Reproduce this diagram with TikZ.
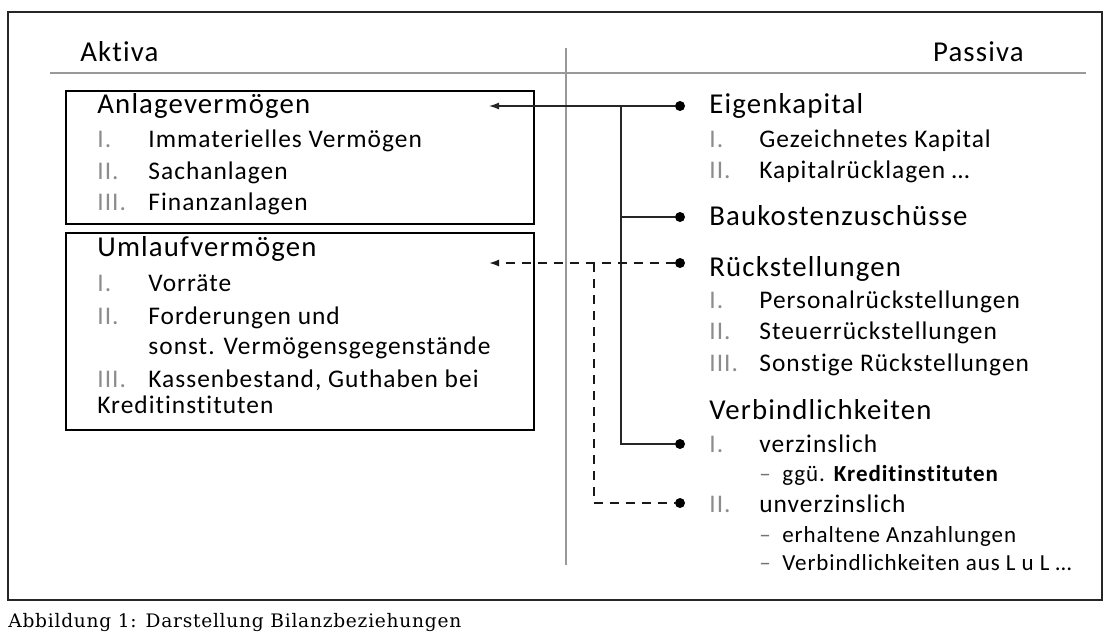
\documentclass[tikz,border=0pt]{standalone}
\usepackage{fontspec}
\newfontfamily\calfont[LetterSpace=4, Ligatures=CommonOff]{Carlito}
\newfontfamily\capfont[LetterSpace=4]{DejaVu Serif}
\usetikzlibrary{arrows.meta}
\tikzset{
	head/.style={anchor=base west, inner sep=0, font=\calfont\fontsize{14.4}{17}\selectfont},
	item/.style={anchor=base west, inner sep=0, font=\calfont\fontsize{12.7}{15}\selectfont},
	subitem/.style={anchor=base west, inner sep=0, font=\calfont\fontsize{11.5}{13}\selectfont},
	num/.style={item, text=black!45},
	dot/.style={circle, fill=black, inner sep=0, minimum size=5pt},
	link/.style={line width=0.65pt, draw=black!85},
	dashlink/.style={line width=0.85pt, draw=black!90, dash pattern=on 4.5pt off 3.5pt},
	tip/.style={-{Latex[length=5pt,width=3.5pt]}},
}

\begin{document}
\begin{tikzpicture}[x=0.5pt, y=-0.5pt]
		%%%%% START %%%%%
		\useasboundingbox (0, 0) rectangle (1114, 638);
		\draw[line width=0.8pt, color=black!85] (8, 12) rectangle (1102, 600);
		
		\node[head] (aktiva) at (80, 61) {Aktiva};
		\node[head, anchor=base east] (passiva) at (1024, 61) {Passiva};
		\draw[line width=1.3pt, color=black!40] (50, 73) -- (1086, 73);
		\draw[line width=1.3pt, color=black!40] (566, 48) -- (566, 565);
		
		% Aktiva boxes
		\draw[line width=1.2pt] (66, 91) rectangle (534, 224);
		\node[head] (av) at (97, 113) {Anlagevermögen};
		\node[num] (avIn) at (97, 147) {I.};
		\node[item] (avI) at (148, 147) {Immaterielles Vermögen};
		\node[num] (avIIn) at (97, 179) {II.};
		\node[item] (avII) at (148, 179) {Sachanlagen};
		\node[num] (avIIIn) at (97, 210) {III.};
		\node[item] (avIII) at (148, 210) {Finanzanlagen};
		
		\draw[line width=1.2pt] (66, 233) rectangle (534, 430);
		\node[head] (uv) at (97, 256) {Umlaufvermögen};
		\node[num] (uvIn) at (97, 291) {I.};
		\node[item] (uvI) at (148, 291) {Vorräte};
		\node[num] (uvIIn) at (97, 324) {II.};
		\node[item] (uvII) at (148, 324) {Forderungen und};
		\node[item] (uvIIb) at (148, 354) {sonst. Vermögensgegenstände};
		\node[num] (uvIIIn) at (97, 387) {III.};
		\node[item] (uvIII) at (148, 387) {Kassenbestand, Guthaben bei};
		\node[item] (uvIIIb) at (97, 413) {Kreditinstituten};
		
		% Passiva
		\node[head] (ek) at (709, 113) {Eigenkapital};
		\node[num] (ekIn) at (709, 147) {I.};
		\node[item] (ekI) at (759, 147) {Gezeichnetes Kapital};
		\node[num] (ekIIn) at (709, 178) {II.};
		\node[item] (ekII) at (759, 178) {Kapitalrücklagen \dots};
		\node[head] (bk) at (709, 225) {Baukostenzuschüsse};
		\node[head] (rs) at (709, 276) {Rückstellungen};
		\node[num] (rsIn) at (709, 308) {I.};
		\node[item] (rsI) at (759, 308) {Personalrückstellungen};
		\node[num] (rsIIn) at (709, 339) {II.};
		\node[item] (rsII) at (759, 339) {Steuerrückstellungen};
		\node[num] (rsIIIn) at (709, 371) {III.};
		\node[item] (rsIII) at (759, 371) {Sonstige Rückstellungen};
		\node[head] (vb) at (709, 419) {Verbindlichkeiten};
		\node[num] (vbIn) at (709, 452) {I.};
		\node[item] (vbI) at (759, 452) {verzinslich};
		\node[subitem] (vbIa) at (759, 481) {\textcolor{black!55}{–}\enspace ggü. \textbf{Kreditinstituten}};
		\node[num] (vbIIn) at (709, 512) {II.};
		\node[item] (vbII) at (759, 512) {unverzinslich};
		\node[subitem] (vbIIa) at (759, 542) {\textcolor{black!55}{–}\enspace erhaltene Anzahlungen};
		\node[subitem] (vbIIb) at (759, 570) {\textcolor{black!55}{–}\enspace Verbindlichkeiten aus L u L \dots};
		
		% connectors
		\node[dot] (dEK) at (680, 106) {};
		\node[dot] (dBK) at (680, 217) {};
		\node[dot] (dRS) at (680, 263) {};
		\node[dot] (dVZ) at (680, 444) {};
		\node[dot] (dUV) at (680, 503) {};
		\coordinate (tAV) at (489, 106);
		\coordinate (tUV) at (489, 263);
		\coordinate (jEK) at (621, 106);
		\coordinate (jRS) at (594, 263);
		
		\draw[link, tip] (dEK) -- (tAV);
		\draw[link] (jEK) |- (dVZ);
		\draw[link] (jEK |- dBK) -- (dBK);
		\draw[dashlink, tip] (dRS) -- (tUV);
		\draw[dashlink] (jRS) |- (dUV);
		
		\node[anchor=base west, inner sep=0, font=\capfont\fontsize{9.3}{11}\selectfont] (caption) at (8, 627) {Abbildung 1: Darstellung Bilanzbeziehungen};
		%%%%% END %%%%%
	\end{tikzpicture}
\end{document}
